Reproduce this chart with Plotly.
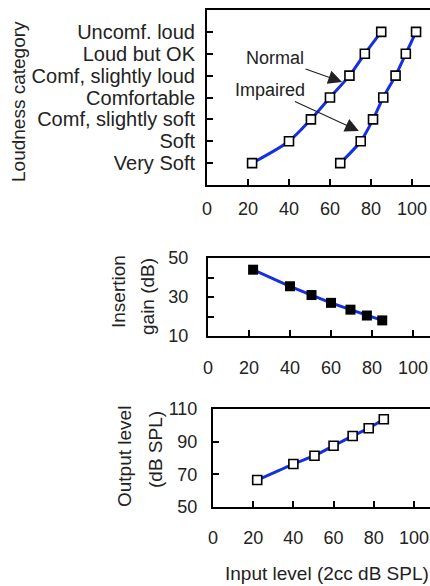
import plotly.graph_objs as go
from plotly.subplots import make_subplots

# loudness growth data (top panel)
categories = ["Very Soft", "Soft", "Comf, slightly soft", "Comfortable",
              "Comf, slightly loud", "Loud but OK", "Uncomf. loud"]
normal_levels = [22, 40, 50.7, 60, 69.5, 77, 85]
impaired_levels = [65, 75, 81, 86, 92, 97, 102]

# hearing aid prescription (middle and bottom panels)
input_level = [22, 40, 50.5, 60, 69.5, 77.5, 85]
insertion_gain = [44, 35.5, 31, 27, 23.5, 20.5, 18]
output_level = [66.5, 76.3, 81.4, 87.5, 93.5, 98.2, 103.7]

x_ticks = [0, 20, 40, 60, 80, 100]

W, H = 430, 586
FONT = "Arial, Liberation Sans, sans-serif"
TXT = "#222222"
BLUE = "#1430e0"


def px_x(p):
    return p / W


def px_y(p):
    return 1 - p / H


fig = make_subplots(rows=3, cols=1)

open_sq = dict(symbol="square", size=9, color="white", line=dict(color="black", width=1.6))

# top: loudness category vs level
fig.add_trace(go.Scatter(x=normal_levels, y=categories, mode="lines+markers",
                         line=dict(color=BLUE, width=3, shape="spline", smoothing=0.8),
                         marker=open_sq, name="Normal"), row=1, col=1)
fig.add_trace(go.Scatter(x=impaired_levels, y=categories, mode="lines+markers",
                         line=dict(color=BLUE, width=3, shape="spline", smoothing=0.8),
                         marker=open_sq, name="Impaired"), row=1, col=1)

# middle: insertion gain
fig.add_trace(go.Scatter(x=input_level, y=insertion_gain, mode="lines+markers",
                         line=dict(color=BLUE, width=3),
                         marker=dict(symbol="square", size=10, color="black"),
                         name="Gain"), row=2, col=1)

# bottom: output level
fig.add_trace(go.Scatter(x=input_level, y=output_level, mode="lines+markers",
                         line=dict(color=BLUE, width=3, shape="spline", smoothing=0.4),
                         marker=open_sq, name="Output"), row=3, col=1)

axis_common = dict(showline=True, linecolor="black", linewidth=2, ticks="inside",
                   ticklen=6, tickwidth=1.5, tickcolor="black", showgrid=False,
                   zeroline=False, automargin=False,
                   tickfont=dict(family=FONT, size=18, color=TXT))

fig.update_layout(
    width=W, height=H, margin=dict(l=0, r=0, t=0, b=0, autoexpand=False),
    paper_bgcolor="white", plot_bgcolor="white", showlegend=False,
    font=dict(family=FONT, color=TXT),
    xaxis=dict(axis_common, domain=[px_x(207), 1], range=[0, 108.8], mirror=True,
               tickvals=x_ticks, ticklabelstandoff=6),
    yaxis=dict(axis_common, domain=[px_y(185), px_y(10)], type="category",
               categoryorder="array", categoryarray=categories, range=[-1, 7],
               tickmode="array", tickvals=categories,
               tickfont=dict(family=FONT, size=20, color=TXT), ticklabelstandoff=6),
    xaxis2=dict(axis_common, domain=[px_x(208), 1], range=[0, 108.3], mirror=True,
                tickvals=x_ticks, ticklabelstandoff=14),
    yaxis2=dict(axis_common, domain=[px_y(336), px_y(258)], range=[10, 50],
                tickvals=[10, 20, 30, 40, 50], ticktext=["10", "", "30", "", "50"],
                ticklabelstandoff=14),
    xaxis3=dict(axis_common, domain=[px_x(213), 1], range=[0, 108], mirror=True,
                tickvals=x_ticks, ticklabelstandoff=13),
    yaxis3=dict(axis_common, domain=[px_y(507), px_y(409)], range=[50, 110],
                tickvals=[50, 70, 90, 110], ticklabelstandoff=10),
)

# arrows pointing at the two curves
arrow = dict(showarrow=True, arrowhead=2, arrowsize=2.3, arrowwidth=1.2,
             arrowcolor="#222222", axref="x", ayref="y", xref="x", yref="y",
             font=dict(family=FONT, size=18, color=TXT))
fig.add_annotation(arrow, text="Normal", x=65.9, y=3.71, ax=33.2, ay=4.8)
fig.add_annotation(arrow, text="Impaired", x=74.1, y=1.47, ax=30.7, ay=3.34)

# axis titles
title_font = dict(family=FONT, size=19, color=TXT)
titles = [
    ("Loudness category", 18, 102, -90, "center"),
    ("Insertion", 118, 292, -90, "center"),
    ("gain (dB)", 147, 297, -90, "center"),
    ("Output level", 125, 457, -90, "center"),
    ("(dB SPL)", 155, 450, -90, "center"),
    ("Input level (2cc dB SPL)", 431, 573, 0, "right"),
]
for text, x, y, ang, anchor in titles:
    fig.add_annotation(text=text, x=px_x(x), y=px_y(y), xref="paper", yref="paper",
                       showarrow=False, textangle=ang, font=title_font,
                       xanchor=anchor, yanchor="middle")

# drop the page's default body margin so the figure sits at the window corner
fig.write_html("out.html", config={"displayModeBar": False},
               post_script="document.body.style.margin='0';"
                           "document.body.style.overflow='hidden';")
